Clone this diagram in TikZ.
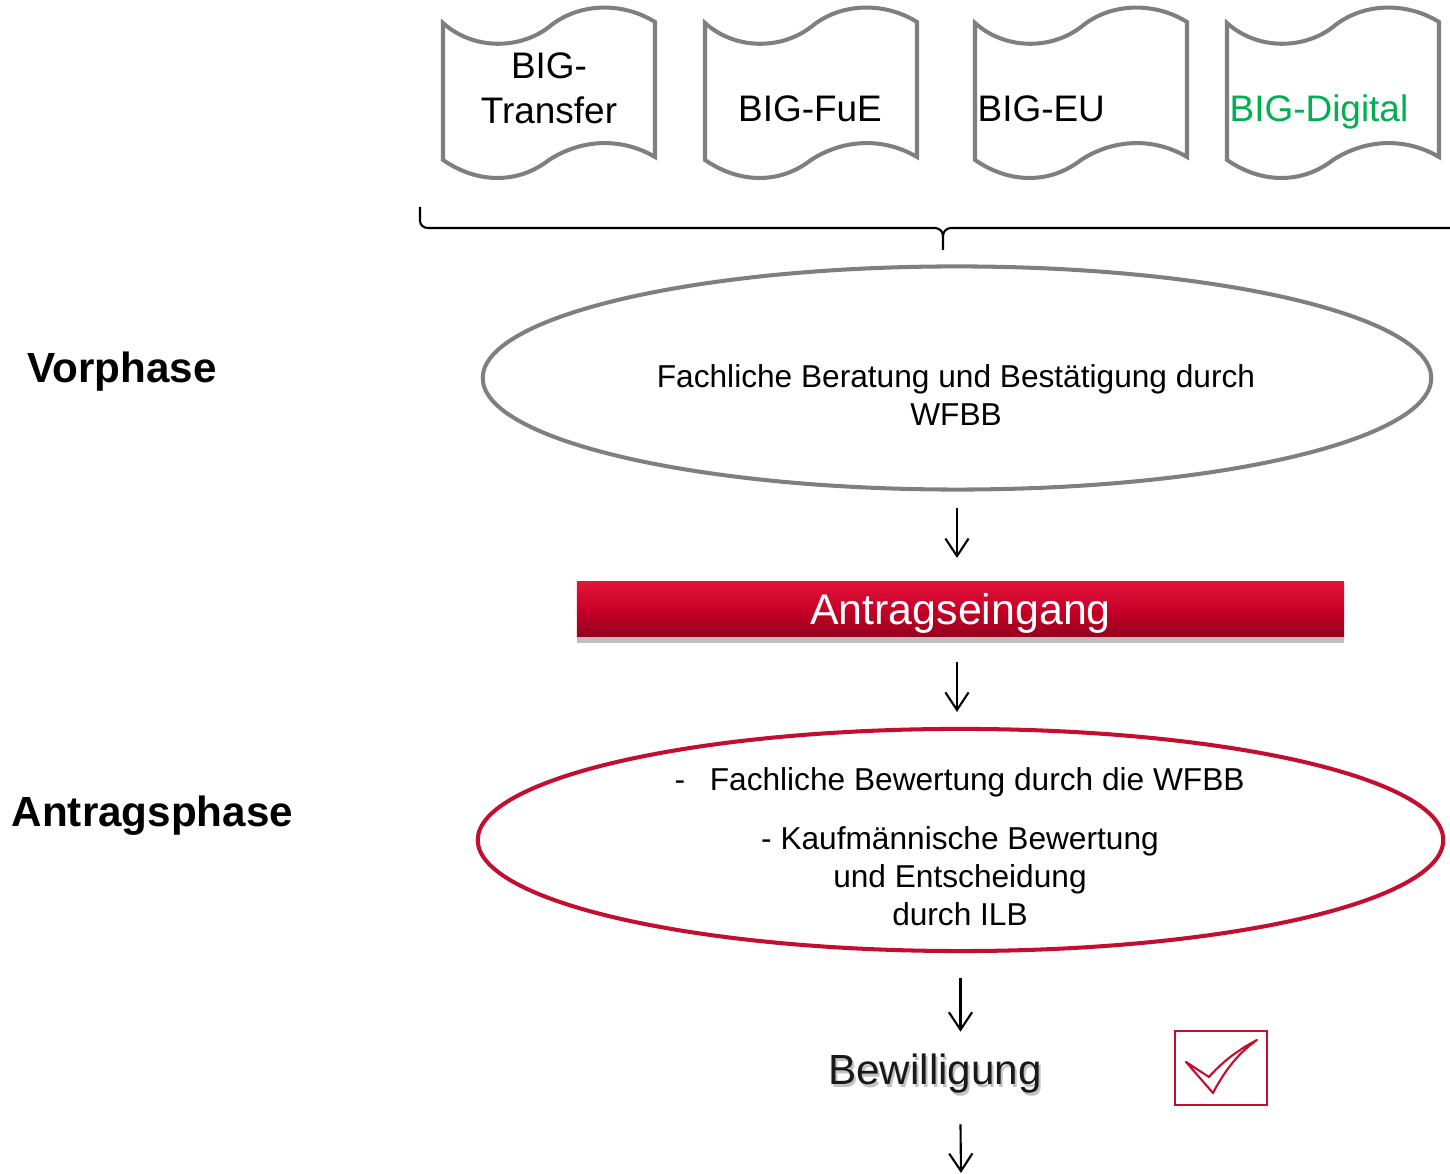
\documentclass[tikz,border=0pt]{standalone}
\usepackage{fontspec}
\setmainfont{Liberation Sans}
\usetikzlibrary{arrows.meta,shadows,shapes.geometric}
\definecolor{wred}{RGB}{196,14,48}
\definecolor{wgray}{RGB}{127,127,127}
\definecolor{wgreen}{RGB}{0,176,80}
\definecolor{barlight}{RGB}{228,20,58}
\definecolor{barmid}{RGB}{200,0,40}
\definecolor{bardark}{RGB}{150,0,30}
\begin{document}
\begin{tikzpicture}[x=0.01cm,y=-0.01cm,
  flow/.style={line width=0.6pt,-{Straight Barb[length=5pt,width=6.6pt]}},
  phase/.style={font=\fontsize{12}{14}\selectfont\bfseries,anchor=base west,inner sep=0pt},
  tapetext/.style={font=\fontsize{10.5}{12.8}\selectfont,inner sep=0pt},
  small/.style={font=\fontsize{9}{10.8}\selectfont,inner sep=0pt}]
\useasboundingbox (0,0) rectangle (1450,1174);
% Programme
\foreach \x in {443,705,975,1227}
  \draw[wgray,line width=1.15pt] (\x,23) -- (\x,160) .. controls (\x+35,184) and (\x+75,184) .. (\x+106,160)
    .. controls (\x+140,138) and (\x+180,138) .. (\x+212,157) -- (\x+212,22)
    .. controls (\x+180,2) and (\x+136,2) .. (\x+106,27) .. controls (\x+76,50) and (\x+30,50) .. cycle;
\node[tapetext,align=center] (transfer) at (549,88) {BIG-\\Transfer};
\node[tapetext,anchor=base] (fue) at (810,122) {BIG-FuE};
\node[tapetext,anchor=base west] (eu) at (977,122) {BIG-EU};
\node[tapetext,anchor=base west,text=wgreen] (digital) at (1229,122) {BIG-Digital};
% Klammer
\draw[line width=0.6pt] (420,207) -- (420,221) to[out=-90,in=180] (428,228) -- (935,228) to[out=0,in=90] (943,236) -- (943,250);
\draw[line width=0.6pt] (943,236) to[out=90,in=180] (951,228) -- (1450,228);
% Phasen
\node[phase] (vorphase) at (27,383) {Vorphase};
\node[phase] (antragsphase) at (11,827) {Antragsphase};
% Vorphase
\node[ellipse,draw=wgray,line width=1.15pt,minimum width=9.48cm,minimum height=2.23cm] (beratung) at (957,378) {};
\node[small,align=center] (beratungtext) at (956,395) {Fachliche Beratung und Bestätigung durch\\WFBB};
\node[minimum width=7.67cm,minimum height=0.52cm,top color=barlight,bottom color=bardark,middle color=barmid,
  drop shadow={shadow xshift=0pt,shadow yshift=-2pt,opacity=0.25,fill=black},text=white,text depth=0pt,
  font=\fontsize{12.2}{14}\selectfont] (antrag) at (960.5,609) {Antragseingang};
% Antragsphase
\node[ellipse,draw=wred,line width=1.15pt,minimum width=9.65cm,minimum height=2.22cm] (pruefung) at (960.5,840) {};
\node[small,anchor=base west] (bewertung) at (674,791) {-\hspace{7pt}Fachliche Bewertung durch die WFBB};
\node[small,align=center] (entscheidung) at (960,876) {- Kaufmännische Bewertung\\und Entscheidung\\durch ILB};
\node[font=\fontsize{12}{14}\selectfont,text=black!40,opacity=0.6,anchor=base,inner sep=0pt] (bewilligungschatten) at (937,1088) {Bewilligung};
\node[font=\fontsize{12}{14}\selectfont,text=black!90,anchor=base,inner sep=0pt] (bewilligung) at (935,1085) {Bewilligung};
\node[draw=wred,line width=0.6pt,minimum width=0.92cm,minimum height=0.74cm] (haken) at (1221,1068) {};
\draw[wred,line width=0.6pt,line join=round] (1186,1062) -- (1213,1093) .. controls (1226,1068) and (1240,1052) .. (1257,1040)
  .. controls (1238,1050) and (1222,1062) .. (1209,1077) -- cycle;
\coordinate (ende) at (961,1173);
% Pfeile
\draw[flow] ([yshift=-1.6mm]beratung.south) -- ([yshift=2.3mm]beratung.south |- antrag.north);
\draw[flow] ([yshift=-2.5mm]antrag.south -| beratung.south) -- ([yshift=1.5mm]beratung.south |- pruefung.north);
\draw[flow] ([yshift=-2.5mm]pruefung.south) -- ([yshift=2.2mm]pruefung.south |- bewilligung.north);
\draw[flow] ([yshift=-3.0mm]pruefung.south |- bewilligung.south) -- (ende);
\end{tikzpicture}
\end{document}
